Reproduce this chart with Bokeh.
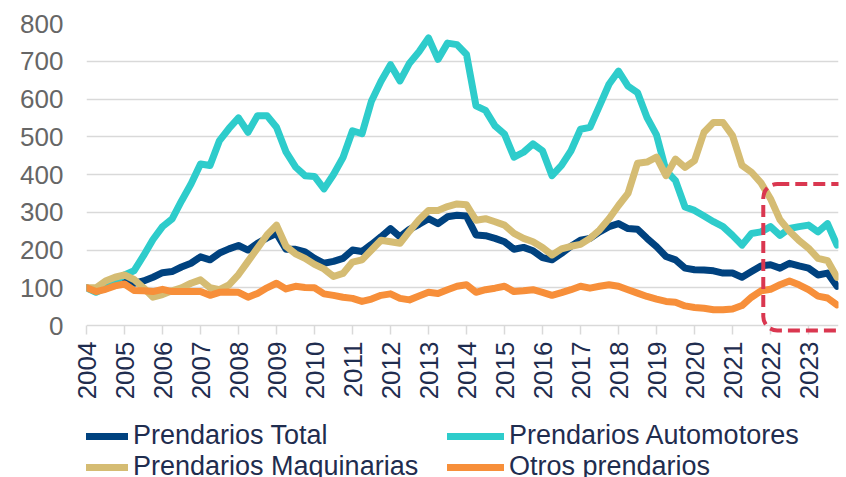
import math
from bokeh.plotting import figure
from bokeh.layouts import column
from bokeh.models import (Range1d, FixedTicker, Legend, LegendItem, BoxAnnotation,
                          ColumnDataSource)
from bokeh.embed import file_html
from bokeh.resources import INLINE

# Quarterly index (base 100 = 2004Q1), 2004Q1 .. 2023Q4
years = list(range(2004, 2024))
quarters = [y + q / 4 for y in years for q in range(4)]

total = [100, 93, 103, 112, 115, 112, 118, 128, 140, 143, 155, 165, 182, 174, 192, 203, 212, 200, 218, 232,
         244, 202, 202, 195, 178, 165, 170, 178, 200, 196, 215, 235, 257, 235, 255, 268, 283, 270, 288, 292,
         290, 240, 238, 231, 222, 202, 207, 198, 180, 174, 191, 210, 226, 231, 248, 262, 270, 257, 255, 231,
         209, 183, 174, 152, 148, 147, 145, 139, 139, 128, 143, 158, 161, 152, 165, 158, 152, 134, 139, 104]

automotores = [100, 88, 100, 118, 134, 145, 185, 228, 262, 282, 330, 375, 428, 424, 490, 522, 550, 512, 556, 556,
               525, 460, 420, 397, 395, 362, 400, 445, 516, 508, 595, 647, 691, 648, 695, 725, 762, 705, 748, 744,
               718, 582, 570, 529, 507, 446, 459, 481, 463, 397, 424, 463, 520, 525, 582, 639, 674, 634, 617, 551,
               505, 410, 384, 314, 305, 290, 275, 262, 239, 213, 244, 248, 262, 239, 257, 262, 266, 248, 270, 213]

maquinarias = [100, 100, 118, 128, 134, 122, 100, 75, 82, 92, 100, 112, 121, 100, 95, 108, 135, 170, 205, 240,
               266, 210, 190, 178, 162, 150, 130, 138, 168, 174, 200, 226, 222, 218, 250, 280, 305, 305, 315, 322,
               320, 279, 283, 275, 266, 244, 231, 222, 207, 187, 203, 210, 215, 231, 253, 283, 318, 350, 430, 433,
               446, 397, 441, 419, 437, 512, 538, 538, 503, 424, 406, 378, 336, 280, 250, 225, 205, 178, 172, 128]

otros = [100, 90, 96, 105, 110, 93, 92, 90, 96, 90, 90, 90, 90, 80, 88, 89, 88, 75, 85, 100,
         112, 97, 104, 101, 100, 84, 80, 75, 72, 64, 70, 80, 84, 72, 68, 78, 88, 85, 95, 104,
         108, 88, 95, 99, 104, 90, 92, 95, 88, 80, 87, 95, 104, 99, 104, 108, 104, 95, 86, 77,
         70, 64, 62, 52, 48, 46, 42, 42, 44, 53, 75, 92, 96, 108, 118, 108, 95, 78, 73, 55]

labels = ["Prendarios Total", "Prendarios Automotores", "Prendarios Maquinarias", "Otros prendarios"]
colors = ["#00427F", "#2ECCCB", "#D5BC73", "#F78F3A"]
series = [total, automotores, maquinarias, otros]

LINE_W = 7
PX_PER_UNIT = 0.38   # 100 units = 38 px

# ---- main chart ----
p = figure(width=846, height=402, output_backend="svg", toolbar_location=None,
           x_range=Range1d(2004, 2004 + 752 / 38), y_range=Range1d(-8 / PX_PER_UNIT, 800),
           min_border_left=86, min_border_right=8, min_border_top=23, min_border_bottom=67)
p.outline_line_color = None
p.background_fill_color = "white"
p.border_fill_color = "white"

for vals, col in zip(series, colors):
    src = ColumnDataSource(dict(x=quarters, y=vals))
    p.line("x", "y", source=src, line_color=col, line_width=LINE_W,
           line_join="round", line_cap="round")

xa = p.xaxis[0]
xa.ticker = FixedTicker(ticks=years)
xa.major_label_orientation = math.pi / 2
xa.major_label_text_font = "Liberation Sans"
xa.major_label_text_font_size = "26px"
xa.major_label_text_color = "#1F2D4F"
xa.axis_line_color = None
xa.major_tick_line_color = "#D9D9D9"
xa.major_tick_line_width = 1.5
xa.major_tick_in = 8
xa.major_tick_out = 1
xa.minor_tick_line_color = None
xa.major_label_standoff = 7

ya = p.yaxis[0]
ya.ticker = FixedTicker(ticks=list(range(0, 801, 100)))
ya.axis_line_color = None
ya.major_tick_line_color = None
ya.minor_tick_line_color = None
ya.major_tick_out = 0
ya.major_tick_in = 0
ya.major_label_standoff = 23
ya.major_label_text_font = "Liberation Sans"
ya.major_label_text_font_size = "26px"
ya.major_label_text_color = "#666666"

p.xgrid.grid_line_color = None
p.ygrid.grid_line_color = "#D9D9D9"
p.ygrid.grid_line_width = 1.5
p.ygrid.ticker = FixedTicker(ticks=list(range(0, 801, 100)))

box = BoxAnnotation(left=2021.81, right=2024.5, top=375, bottom=-13,
                    fill_alpha=0, fill_color=None, line_color="#DA3750", line_alpha=1,
                    line_width=4, line_dash="12 6", border_radius=14, level="overlay")
p.add_layout(box)

# ---- legend strip ----
lg = figure(width=846, height=75, output_backend="svg", toolbar_location=None,
            x_axis_type=None, y_axis_type=None, x_range=Range1d(0, 1), y_range=Range1d(0, 1),
            min_border_left=14, min_border_right=0, min_border_top=18, min_border_bottom=0)
lg.outline_line_color = None
lg.xgrid.visible = False
lg.ygrid.visible = False
nan = float("nan")
dummies = []
for col in colors:
    dummies.append(lg.line(x=[nan], y=[nan], line_color=col, line_width=LINE_W, line_cap="round"))

items = [LegendItem(label=lab, renderers=[r]) for lab, r in zip(labels, dummies)]
legend = Legend(items=items, ncols=2, orientation="horizontal", location=(-15, -5),
                glyph_width=57, glyph_height=20, label_standoff=5, label_width=314,
                spacing=0, padding=0, margin=0, border_line_color=None,
                background_fill_alpha=0,
                label_text_font="Liberation Sans", label_text_font_size="27px",
                label_text_color="#1F2D4F")
lg.add_layout(legend, "center")

layout = column(p, lg, spacing=0)
open("out.html", "w").write(file_html(layout, INLINE))
